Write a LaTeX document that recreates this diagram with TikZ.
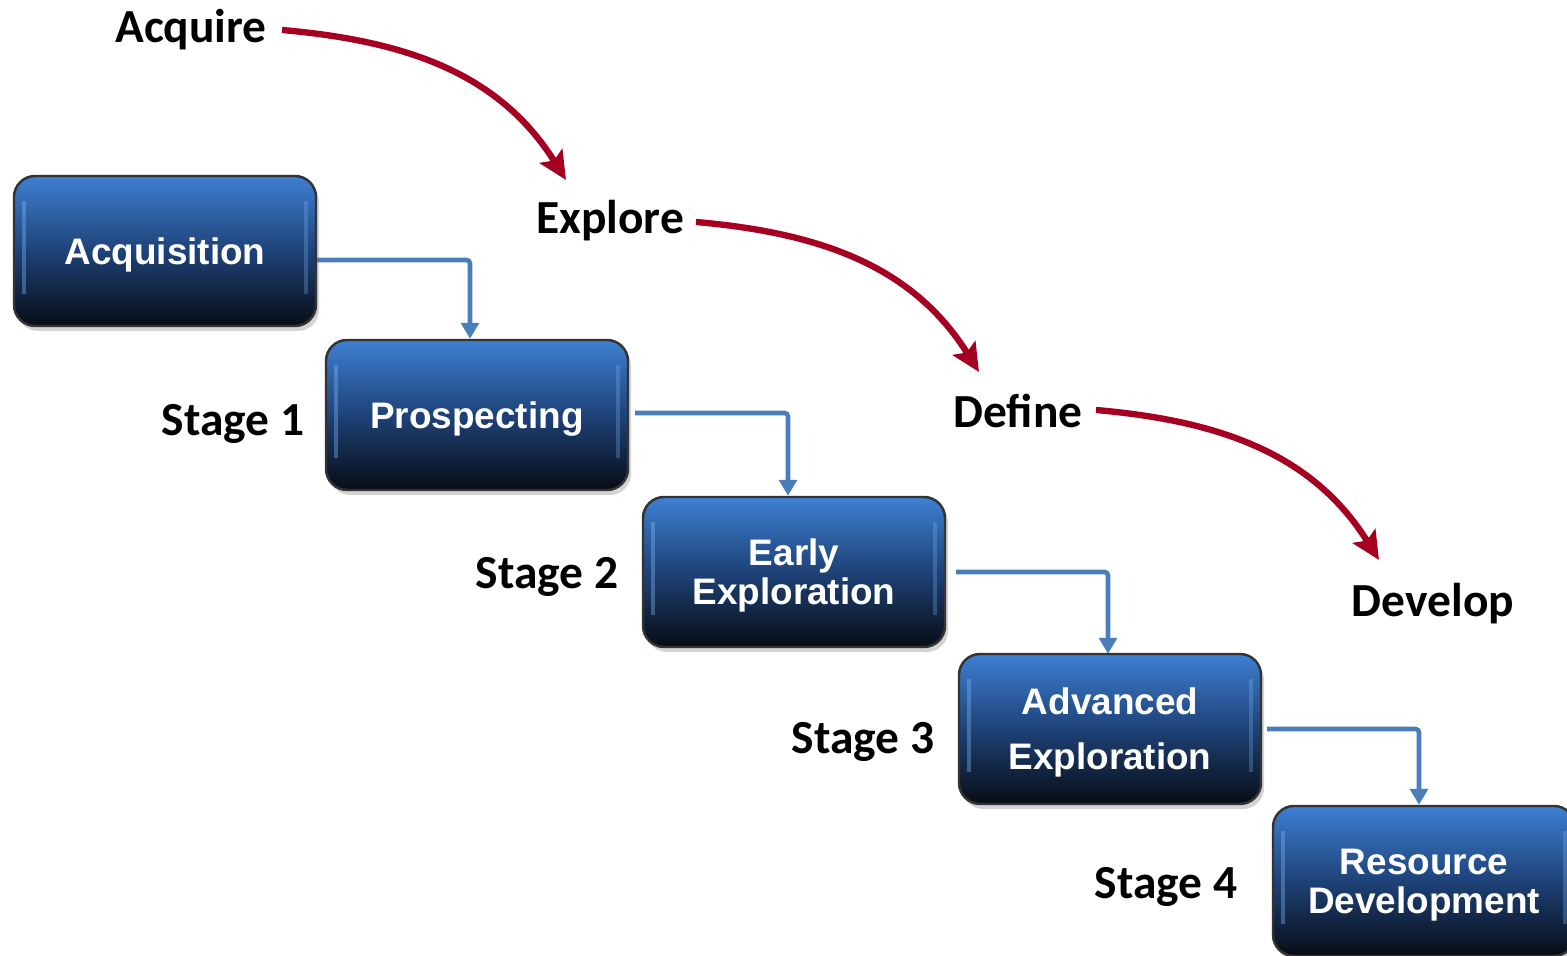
\documentclass[tikz,border=0pt]{standalone}
\usepackage{fontspec}
\setmainfont{Carlito}
\newfontfamily\boxfont{Liberation Sans}
\usetikzlibrary{arrows.meta,shadows,calc}
\definecolor{boxtop}{RGB}{62,128,210}
\definecolor{boxmid}{RGB}{30,66,120}
\definecolor{boxbot}{RGB}{8,12,20}
\definecolor{connblue}{RGB}{74,126,187}
\definecolor{arrred}{RGB}{165,0,33}
\definecolor{bevel}{RGB}{120,180,240}
\tikzset{
  stagebox/.style={rounded corners=6pt, minimum width=3.02cm, minimum height=1.5cm,
    top color=boxtop, bottom color=boxbot, middle color=boxmid,
    draw=black!80, line width=0.7pt,
    drop shadow={shadow xshift=0.03cm, shadow yshift=-0.05cm, opacity=0.35},
    path picture={
      \fill[bevel, opacity=0.4, sharp corners] ([xshift=2.2pt,yshift=-7pt]path picture bounding box.north west)
        rectangle ([xshift=3.4pt,yshift=9pt]path picture bounding box.south west);
      \fill[bevel, opacity=0.3, sharp corners] ([xshift=-2.2pt,yshift=-7pt]path picture bounding box.north east)
        rectangle ([xshift=-3.4pt,yshift=9pt]path picture bounding box.south east);
    },
    text=white, font=\boxfont\fontsize{10.5pt}{11.1pt}\selectfont\bfseries, align=center, inner sep=0pt, text depth=0pt},
  stagelabel/.style={font=\fontsize{13.5pt}{16pt}\selectfont\bfseries, text=black, inner sep=0pt},
  phase/.style={font=\fontsize{13.5pt}{16pt}\selectfont\bfseries, text=black, inner sep=0pt},
  conn/.style={draw=connblue, line width=1.3pt, rounded corners=1pt, -{Triangle[length=4.5pt,width=5pt]}},
  redarrow/.style={draw=arrred, line width=1.8pt, -{Stealth[length=8pt,width=7.5pt,inset=1.5pt]}},
}
\begin{document}
\begin{tikzpicture}
\useasboundingbox (0,0) rectangle (15.67,9.56);
% boxes
\node[stagebox] (acq) at (1.65,7.05) {Acquisition};
\node[stagebox] (pro) at (4.77,5.41) {Prospecting};
\node[stagebox] (ear) at (7.94,3.84) {Early\\Exploration};
\node[stagebox, font=\boxfont\fontsize{10.5pt}{15.6pt}\selectfont\bfseries] (adv) at (11.10,2.27) {Advanced\\Exploration};
\node[stagebox] (res) at (14.24,0.75) {Resource\\Development};
% stage labels
\node[stagelabel] (s1) at (2.33,5.32) {Stage 1};
\node[stagelabel] (s2) at (5.47,3.79) {Stage 2};
\node[stagelabel] (s3) at (8.63,2.14) {Stage 3};
\node[stagelabel] (s4) at (11.66,0.69) {Stage 4};
% phase labels
\node[phase] (acquire) at (1.91,9.26) {Acquire};
\node[phase] (explore) at (6.10,7.35) {Explore};
\node[phase] (define) at (10.18,5.45) {Define};
\node[phase] (develop) at (14.33,3.52) {Develop};
% blue connectors
\draw[conn] ($(acq.east)+(0,-0.09)$) -| ($(pro.north)+(-0.07,0)$);
\draw[conn] ($(pro.east)+(0.06,0.02)$) -| ($(ear.north)+(-0.06,0)$);
\draw[conn] ($(ear.east)+(0.10,0)$) -| ($(adv.north)+(-0.02,-0.01)$);
\draw[conn] ($(adv.east)+(0.05,0)$) -| ($(res.north)+(-0.05,0)$);
% red arrows
\coordinate (r1s) at (2.82,9.26);
\coordinate (r1e) at (5.66,7.76);
\coordinate (r2s) at (6.96,7.34);
\coordinate (r2e) at (9.79,5.84);
\coordinate (r3s) at (10.96,5.46);
\coordinate (r3e) at (13.79,3.96);
\draw[redarrow] (r1s) to[out=-5,in=122,looseness=1.0] (r1e);
\draw[redarrow] (r2s) to[out=-5,in=122,looseness=1.0] (r2e);
\draw[redarrow] (r3s) to[out=-5,in=122,looseness=1.0] (r3e);
\end{tikzpicture}
\end{document}
